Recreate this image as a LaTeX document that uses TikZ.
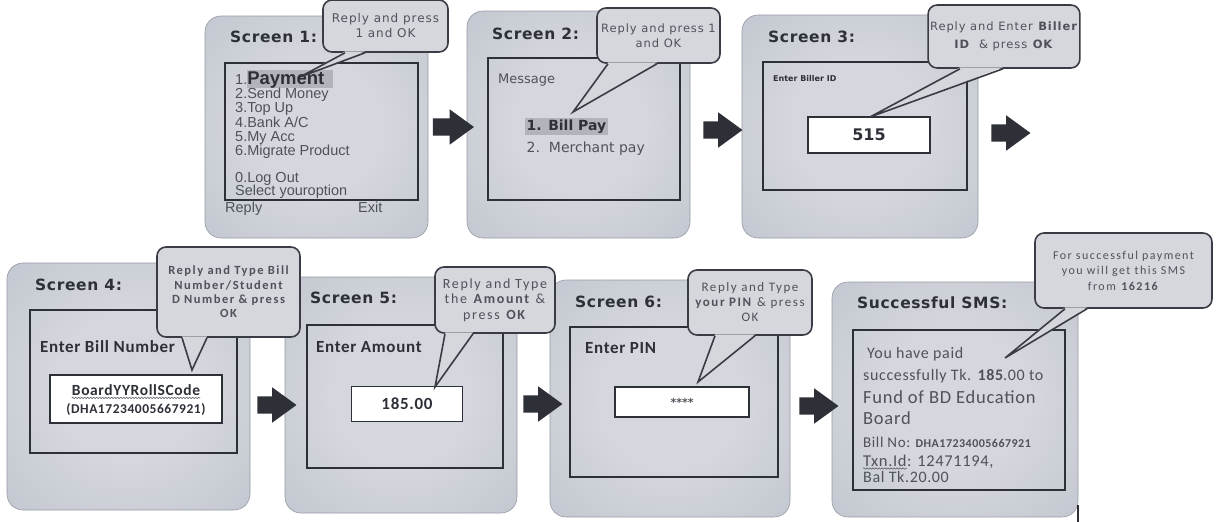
\documentclass[tikz,border=0pt]{standalone}
\usepackage{fontspec}
\setmainfont{DejaVu Sans}
\newfontfamily\arialfont{Liberation Sans}
\newfontfamily\calfont[LetterSpace=4]{Carlito}
\newfontfamily\tipcal[LetterSpace=12]{Carlito}
\newfontfamily\tipfont[LetterSpace=8]{DejaVu Sans}
\newfontfamily\titlefont[LetterSpace=4]{DejaVu Sans}
\usetikzlibrary{shapes.arrows,decorations.pathmorphing}

\definecolor{panelin}{HTML}{D4D7DD}
\definecolor{panelmid}{HTML}{BEC2CB}
\definecolor{panelout}{HTML}{A0A4AE}
\definecolor{panelrim}{HTML}{969AA5}
\definecolor{bubblefill}{HTML}{D5D7DD}
\definecolor{bubblerim}{HTML}{3A3C45}
\definecolor{inkdark}{HTML}{2E3038}
\definecolor{inkgray}{HTML}{4F525A}
\definecolor{hilite}{HTML}{B2B4BB}

\pgfdeclareradialshading{panelglow}{\pgfpoint{0bp}{0bp}}{color(0bp)=(panelin); color(15bp)=(panelin); color(42bp)=(panelmid); color(72bp)=(panelout)}

\newcommand{\pxsize}[1]{\fontsize{#1}{#1}\selectfont}
% tail of a speech balloon: node, left and right offset of its base, tip
\newcommand{\balloontail}[4]{%
  \fill[bubblefill] ([xshift=#2,yshift=1.4pt]#1.south) -- (#4) -- ([xshift=#3,yshift=1.4pt]#1.south) -- cycle;
  \draw[bubblerim,line width=1.6pt,line join=miter] ([xshift=#2]#1.south) -- (#4) -- ([xshift=#3]#1.south);}

\begin{document}
\begin{tikzpicture}[x=1pt,y=-1pt,
  panel/.style={rounded corners=16pt,shading=panelglow,draw=panelrim,line width=0.6pt},
  lcd/.style={draw=inkdark,line width=1.1pt},
  entry/.style={draw=inkdark,fill=white,line width=1.1pt,text=inkdark},
  title/.style={anchor=base west,inner sep=0pt,font=\titlefont\bfseries\pxsize{15.5},text=inkdark},
  menu/.style={anchor=base west,inner sep=0pt,font=\arialfont\pxsize{14.5},text=inkgray},
  field/.style={anchor=base west,inner sep=0pt,font=\calfont\bfseries\pxsize{17},text=inkdark},
  smsline/.style={anchor=base west,inner sep=0pt,font=\calfont\pxsize{16},text=inkgray},
  bubble/.style={draw=bubblerim,fill=bubblefill,line width=1.6pt,rounded corners=9pt,align=center,
    inner sep=2pt,text=inkgray},
  flow/.style={single arrow,fill=inkdark,inner xsep=0pt,inner ysep=8.5pt,text height=0pt,text depth=0pt,
    minimum height=39pt,single arrow head extend=9pt,single arrow head indent=0pt,single arrow tip angle=72},
  wavy/.style={decorate,decoration={snake,amplitude=0.7pt,segment length=3pt},inkgray,line width=0.5pt}]
\useasboundingbox (0,0) rectangle (1219,522);

% screen 1
\shade[panel] (205,16) rectangle (428,238);
\draw[lcd] (225,63) rectangle (418,200);
\node[title] (s1) at (230,42) {Screen 1:};
\fill[hilite] (247,70) rectangle (333,88);
\node[menu] (m1) at (235,84) {1.{\pxsize{18.5}\bfseries\color{inkdark}Payment}};
\node[menu] (m2) at (235,98) {2.Send Money};
\node[menu] (m3) at (235,112) {3.Top Up};
\node[menu] (m4) at (235,127) {4.Bank A/C};
\node[menu] (m5) at (235,141) {5.My Acc};
\node[menu] (m6) at (235,155) {6.Migrate Product};
\node[menu] (m0) at (235,182) {0.Log Out};
\node[menu] (sel) at (235,195) {Select youroption};
\node[menu] (reply) at (225,212) {Reply};
\node[menu] (exit) at (358,212) {Exit};

% screen 2
\shade[panel] (467,11) rectangle (690,238);
\draw[lcd] (488,58) rectangle (680,200);
\node[title] (s2) at (492,39) {Screen 2:};
\node[anchor=base west,inner sep=0pt,font=\pxsize{13},text=inkgray] (msg) at (498,83) {Message};
\node[anchor=base west,inner sep=1.5pt,fill=hilite,font=\bfseries\pxsize{14},text=inkdark] (opt1) at (525,130) {1. Bill Pay};
\node[anchor=base west,inner sep=1.5pt,font=\pxsize{14},text=inkgray] (opt2) at (525,152) {2.\ \ Merchant pay};

% screen 3
\shade[panel] (742,15) rectangle (978,238);
\draw[lcd] (763,62) rectangle (967,190);
\node[title] (s3) at (768,42) {Screen 3:};
\node[anchor=base west,inner sep=0pt,font=\bfseries\pxsize{8},text=inkdark] (biller) at (773,81) {Enter Biller ID};
\node[entry,minimum width=122pt,minimum height=36pt,font=\bfseries\pxsize{16}] (id) at (869,135) {515};

% screen 4
\shade[panel] (7,263) rectangle (250,510);
\draw[lcd] (30,310) rectangle (237,453);
\node[title] (s4) at (35,290) {Screen 4:};
\node[field] (billno) at (40,352) {Enter Bill Number};
\draw[entry] (50,375) rectangle (222,423);
\node[inner sep=0pt,font=\calfont\bfseries\pxsize{15.5},text=inkdark] (code) at (136,390) {BoardYYRollSCode};
\draw[wavy] ([yshift=-2.5pt]code.base west) -- ([yshift=-2.5pt]code.base east);
\node[inner sep=0pt,font=\calfont\bfseries\pxsize{13.5},text=inkdark] (codeeg) at (136,410) {(DHA17234005667921)};

% screen 5
\shade[panel] (285,277) rectangle (517,513);
\draw[lcd] (307,325) rectangle (503,468);
\node[title] (s5) at (310,303) {Screen 5:};
\node[field] (amt) at (316,352) {Enter Amount};
\node[entry,minimum width=111pt,minimum height=35pt,font=\calfont\bfseries\pxsize{17}] (amount) at (407,404) {185.00};

% screen 6
\shade[panel] (550,280) rectangle (790,517);
\draw[lcd] (570,327) rectangle (778,477);
\node[title] (s6) at (575,307) {Screen 6:};
\node[field] (pinlbl) at (585,353) {Enter PIN};
\node[entry,minimum width=134pt,minimum height=30pt,font=\bfseries\pxsize{11},text=inkgray] (pin) at (682,402) {****};

% successful sms
\shade[panel] (832,282) rectangle (1078,517);
\draw[lcd] (853,330) rectangle (1065,490);
\node[title] (s7) at (857,308) {Successful SMS:};
\node[smsline] (l1) at (867,358) {You have paid};
\node[smsline] (l2) at (863,380) {successfully Tk. \textbf{185}.00 to};
\node[smsline,font=\calfont\pxsize{18.5}] (l3) at (863,403) {Fund of BD Education};
\node[smsline,font=\calfont\pxsize{18.5}] (l4) at (863,424) {Board};
\node[smsline,font=\calfont\pxsize{15}] (l5) at (863,447) {Bill No: {\bfseries\pxsize{12}DHA17234005667921}};
\node[smsline,font=\calfont\pxsize{16.5}] (txn) at (863,466) {Txn.Id};
\node[smsline,font=\calfont\pxsize{16.5}] (l6) at (txn.base east) {: 12471194,};
\draw[wavy] ([yshift=-2.5pt]txn.base west) -- ([yshift=-2.5pt]txn.base east);
\node[smsline] (l7) at (863,482) {Bal Tk.20.00};
\draw[inkdark,line width=1.5pt] (1078,505) -- (1078,522);

% arrows
\node[flow,minimum height=41pt] (a1) at (447.5,127) {};
\node[flow] (a2) at (717,130) {};
\node[flow] (a3) at (1005,133) {};
\node[flow] (a4) at (271,405) {};
\node[flow] (a5) at (537,404) {};
\node[flow] (a6) at (813,406) {};

% balloons
\coordinate (tip1) at (300,77);
\coordinate (tip2) at (573,112);
\coordinate (tip3) at (870,117);
\coordinate (tip4) at (192,370);
\coordinate (tip5) at (435,387);
\coordinate (tip6) at (698,382);
\coordinate (tip7) at (1005,358);

\node[bubble,minimum width=125pt,minimum height=52pt,font=\tipfont\fontsize{12}{15}\selectfont] (b1) at (385.5,26) {Reply and press\\1 and OK};
\balloontail{b1}{-40.5pt}{-20.5pt}{tip1}
\node[bubble,minimum width=123pt,minimum height=55pt,font=\tipfont\fontsize{11.5}{15}\selectfont] (b2) at (658.5,35.5) {Reply and press 1\\and OK};
\balloontail{b2}{-50.5pt}{-1.5pt}{tip2}
\node[bubble,minimum width=142pt,minimum height=63pt,font=\tipfont\fontsize{11.5}{18}\selectfont] (b3) at (1004,36.5) {Reply and Enter \textbf{Biller}\\\textbf{ID} \ \& press \textbf{OK}};
\balloontail{b3}{-44pt}{-1pt}{tip3}
\node[bubble,minimum width=143pt,minimum height=90pt,font=\tipcal\bfseries\fontsize{12.5}{14.3}\selectfont] (b4) at (228.5,292) {Reply and Type Bill\\Number/Student\\D Number \& press\\OK};
\balloontail{b4}{-46.5pt}{-21.5pt}{tip4}
\node[bubble,minimum width=120pt,minimum height=66pt,font=\tipcal\fontsize{14}{15.5}\selectfont] (b5) at (495,300) {Reply and Type\\the \textbf{Amount} \&\\press \textbf{OK}};
\balloontail{b5}{-50pt}{-22pt}{tip5}
\node[bubble,minimum width=124pt,minimum height=65pt,font=\tipcal\fontsize{13}{15}\selectfont] (b6) at (750,302.5) {Reply and Type\\\textbf{your PIN} \& press\\OK};
\balloontail{b6}{-35pt}{5pt}{tip6}
\node[bubble,minimum width=177pt,minimum height=75pt,font=\tipcal\fontsize{12}{15.5}\selectfont] (b7) at (1123.5,270.5) {For successful payment\\you will get this SMS\\from \textbf{16216}};
\balloontail{b7}{-58.5pt}{-36.5pt}{tip7}
\end{tikzpicture}
\end{document}
